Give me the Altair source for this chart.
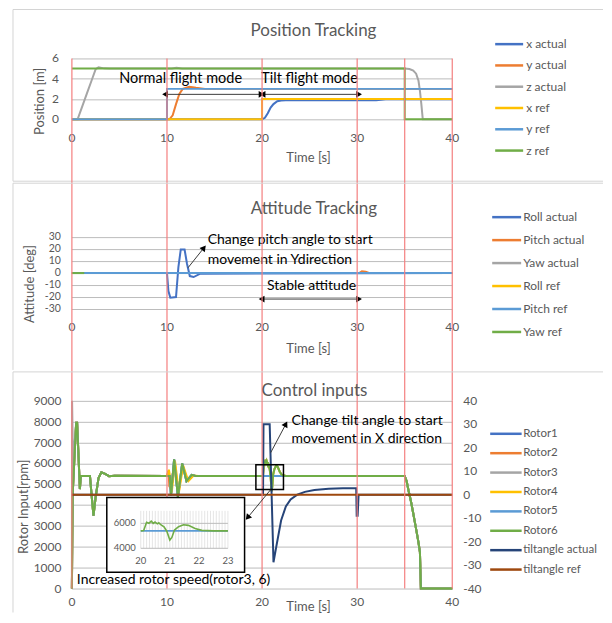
import math
import altair as alt
import pandas as pd

FONT = "Lato"
TXT = "#595959"
GRID = "#bcbcbc"
RED = "#f47f7f"
BORDER = "#d4d4d4"

W = 381
H1, H2, H3 = 61, 72, 188
GAP1, GAP2 = 118, 92

RED_TIMES = [0, 10, 20, 30, 35, 40]
X_TICKS = [0, 10, 20, 30, 40]
POS_TICKS = [0, 2, 4, 6]
ATT_TICKS = [-30, -20, -10, 0, 10, 20, 30]
RPM_TICKS = [0, 1000, 2000, 3000, 4000, 5000, 6000, 7000, 8000, 9000]
TILT_TICKS = [-40, -30, -20, -10, 0, 10, 20, 30, 40]

# ---------------- Position tracking ----------------
POS_NAMES = ["x actual", "y actual", "z actual", "x ref", "y ref", "z ref"]
POS_COLORS = ["#4472C4", "#ED7D31", "#A5A5A5", "#FFC000", "#5B9BD5", "#70AD47"]
X_ACT_T = [0, 20.0, 20.3, 20.6, 20.9, 21.2, 21.6, 22.0, 22.5, 32.0, 33.0, 40]
X_ACT_V = [0, 0, 0.15, 0.6, 1.15, 1.5, 1.78, 1.85, 1.87, 1.88, 1.98, 1.98]
Y_ACT_T = [0, 10.25, 10.6, 10.95, 11.3, 11.65, 12.35, 13.05, 14.0, 40]
Y_ACT_V = [0, 0, 0.4, 1.5, 2.5, 3.0, 3.2, 3.1, 3.0, 3.0]
Z_ACT_T = [0, 0.6, 1.1, 1.6, 2.1, 2.5, 2.8, 3.4, 4.0, 10.5, 11.0, 11.6, 35.0, 35.5,
           35.9, 36.2, 36.45, 36.6, 36.75, 36.9, 40]
Z_ACT_V = [0, 0, 1.3, 2.6, 3.9, 4.95, 5.12, 5.02, 5.0, 5.0, 5.08, 5.0, 5.0, 4.95,
           4.8, 4.5, 3.8, 2.8, 1.5, 0, 0]
X_REF_T = [0, 20, 20, 40]
X_REF_V = [0, 0, 2, 2]
Y_REF_T = [0, 10, 10, 40]
Y_REF_V = [0, 0, 3, 3]
Z_REF_T = [0, 35, 35, 40]
Z_REF_V = [5, 5, 0, 0]

POS_LABELS = ["Normal flight mode", "Tilt flight mode"]
POS_LABEL_T = [11.44, 24.99]
POS_LABEL_V = [3.93, 3.93]
POS_ARROW_T1 = [9.8, 20.05]
POS_ARROW_T2 = [19.95, 30.2]
POS_ARROW_V = [2.46, 2.46]

# ---------------- Attitude tracking ----------------
ATT_NAMES = ["Roll actual", "Pitch actual", "Yaw actual", "Roll ref", "Pitch ref", "Yaw ref"]
ATT_COLORS = ["#4472C4", "#ED7D31", "#A5A5A5", "#FFC000", "#5B9BD5", "#70AD47"]
ROLL_ACT_T = [0, 10.0, 10.15, 10.35, 10.95, 11.2, 11.45, 11.85, 12.1, 12.4, 12.8, 13.5, 40]
ROLL_ACT_V = [0, 0, -15, -20.5, -20, 5, 19.7, 19.7, 8, -2.5, -3.3, -0.5, 0]
PITCH_ACT_T = [0, 30.2, 30.5, 30.9, 31.3, 40]
PITCH_ACT_V = [0, 0, 1.5, 1.2, 0, 0]
YAW_ACT_T = [0, 40]
YAW_ACT_V = [0, 0]
ROLL_REF_T = [0, 40]
ROLL_REF_V = [0, 0]
PITCH_REF_T = [0, 40]
PITCH_REF_V = [0, 0]
YAW_REF_T = [0, 1.3]
YAW_REF_V = [0, 0]

ATT_LABELS = ["Change pitch angle to start", "movement  in Ydirection", "Stable attitude"]
ATT_LABEL_T = [14.28, 14.28, 25.2]
ATT_LABEL_V = [27.4, 10.8, -10.8]
ATT_LABEL_ALIGN = ["left", "left", "center"]
ATT_DARROW_T1 = [19.95]
ATT_DARROW_T2 = [30.2]
ATT_DARROW_V = [-21.7]
ATT_ARROW = [12.21, 4.4, 13.89, 21.1]

# ---------------- Control inputs ----------------
CTRL_NAMES = ["Rotor1", "Rotor2", "Rotor3", "Rotor4", "Rotor5", "Rotor6",
              "tiltangle actual", "tiltangle ref"]
CTRL_COLORS = ["#4472C4", "#ED7D31", "#A5A5A5", "#FFC000", "#5B9BD5", "#70AD47",
               "#264478", "#9E480E"]

R_START_T = [0, 0.08, 0.45, 0.55, 0.84, 0.94, 1.9, 2.05, 2.27, 2.5, 2.8, 3.1, 3.5, 3.9, 4.5, 10.0]
R_START_V = [0, 4500, 7950, 7950, 4770, 5400, 5400, 4600, 3490, 4400, 5300, 5570, 5500, 5390, 5410, 5400]
R3_START_T = [0, 0.02, 0.12, 0.45, 0.55, 0.84, 0.94, 1.9, 2.05, 2.27, 2.5, 2.8, 3.1, 3.5, 3.9, 4.5, 10.0]
R3_START_V = [0, 9000, 6000, 7950, 7950, 4770, 5400, 5400, 4600, 3490, 4400, 5300, 5570, 5500, 5390, 5410, 5400]
R_OSC_T = [10.3, 10.42, 10.75, 11.15, 11.6, 12.05, 12.6, 13.0]
R_OSC_V = [5400, 4450, 6200, 4400, 6000, 5150, 5450, 5400]
R4_OSC_T = [10.2, 10.35, 10.5, 10.85, 11.25, 11.7, 12.25, 12.8, 13.3]
R4_OSC_V = [5700, 5300, 4600, 6100, 4600, 5900, 5150, 5420, 5400]
R2_OSC_T = [10.15, 10.25, 10.4, 10.8, 11.2, 11.65, 12.1, 12.6, 13.0]
R2_OSC_V = [5650, 4900, 4800, 6150, 4500, 5950, 5180, 5440, 5400]
R_TILT_T = [20.0, 20.1, 20.2, 20.28, 20.36, 20.43, 20.49, 20.57, 20.62, 20.7, 20.8, 20.9,
            21.0, 21.07, 21.16, 21.3, 21.47, 21.64, 21.87, 22.1, 22.5]
R_TILT_V = [5400, 5420, 6080, 6000, 6180, 6000, 6100, 5960, 6040, 5870, 5720, 5350,
            4660, 4870, 5460, 5730, 5890, 5840, 5590, 5440, 5400]
R_FLAT_T = [20.0, 22.5]
R_FLAT_V = [5400, 5400]
R_END_T = [35.0, 35.2, 35.4, 35.65, 35.9, 36.1, 36.3, 36.45, 36.6, 36.7, 40]
R_END_V = [5400, 5150, 4700, 4200, 3600, 3100, 2600, 2200, 1750, 0, 0]

TILT_ACT_T = [0, 20.1, 20.15, 20.8, 21.2, 21.5, 22.0, 22.5, 23.0, 23.7, 24.5, 25.5, 27.0,
              28.5, 29.9, 29.95, 30.05, 30.15, 40]
TILT_ACT_V = [0, 0, 30, 30, -28.8, -22, -11, -5, -2, 0, 1.2, 2.0, 2.5,
              2.7, 2.7, -9, -9, 0, 0]
TILT_REF_T = [0, 40]
TILT_REF_V = [0, 0]

CTRL_LABELS = ["Change tilt angle to start", "movement  in X direction",
               "Increased rotor speed(rotor3, 6)"]
CTRL_LABEL_T = [23.1, 23.1, 0.52]
CTRL_LABEL_V = [8043, 7181, 400]
CTRL_ARROWS = [[20.9, 6510, 22.5, 7885], [20.9, 4740, 18.48, 3400]]
ZOOM_RECT = [19.35, 22.25, 4750, 5940]
INSET_BOX = [3.67, 18.16, 780, 4370]
INSET_T_TICKS = [20, 21, 22, 23]
INSET_V_TICKS = [4000, 6000]
INSET_T_GRID = [20 + k / 10 for k in range(31)]
INSET_X_RANGE = [69, 156.3]
INSET_Y_RANGE = [147.7, 122.7]

# ---------------- helpers ----------------
XS = alt.Scale(domain=[0, 40], nice=False, zero=False)


def X(field, scale):
    return alt.X(field, scale=scale, axis=None)


def Y(field, scale):
    return alt.Y(field, scale=scale, axis=None)


def lin(v, d0, d1, r0, r1):
    return r0 + (v - d0) / (d1 - d0) * (r1 - r0)


def series_df(name, ts, vs):
    return pd.DataFrame({"t": ts, "v": vs, "name": [name] * len(ts), "i": list(range(len(ts)))})


def color_enc(names, colors):
    return alt.Color("name:N", scale=alt.Scale(domain=names, range=colors), legend=None)


def lab_text(df, size=12, align="center", angle=0, color=TXT):
    kw = dict(font=FONT, fontSize=size, color=color, align=align, baseline="middle")
    if angle:
        kw["angle"] = angle
    return alt.Chart(df).mark_text(**kw)


def seg_rules(segs, color, width=1.0):
    bdf = pd.DataFrame(segs, columns=["x1", "x2", "y1", "y2"])
    return alt.Chart(bdf).mark_rule(color=color, strokeWidth=width).encode(
        x=alt.X("x1:Q", scale=None), x2="x2:Q", y=alt.Y("y1:Q", scale=None), y2="y2:Q")


def grid_h(values, lo, hi, h):
    segs = []
    for v in values:
        y = round(lin(v, lo, hi, h, 0)) + 0.5
        segs.append([0, W, y, y])
    return seg_rules(segs, GRID)


def x_guides(h, lab_y, title_y):
    labs = lab_text(pd.DataFrame({"t": X_TICKS, "lab": [str(v) for v in X_TICKS]})).encode(
        x=X("t:Q", XS), y=alt.value(h + lab_y), text="lab:N")
    title = lab_text(pd.DataFrame({"lab": ["Time [s]"]}), size=13).encode(
        x=alt.value(237), y=alt.value(h + title_y), text="lab:N")
    return [labs, title]


def y_guides(values, ys, pad, title=None, tx=0, ty=0, right=False, size=12):
    out = []
    ldf = pd.DataFrame({"g": values, "lab": [str(v) for v in values]})
    out.append(lab_text(ldf, size=size, align="left" if right else "right").encode(
        x=alt.value(W + pad if right else -pad), y=Y("g:Q", ys), text="lab:N"))
    if title:
        out.append(lab_text(pd.DataFrame({"lab": [title]}), size=13, angle=270).encode(
            x=alt.value(tx), y=alt.value(ty), text="lab:N"))
    return out


def lines(series, names, colors, ys, width=2.0, xs=XS):
    out = []
    for name, ts, vs in series:
        out.append(alt.Chart(series_df(name, ts, vs)).mark_line(strokeWidth=width).encode(
            x=X("t:Q", xs), y=Y("v:Q", ys), color=color_enc(names, colors),
            order=alt.Order("i:Q")))
    return out


def texts(labels, ts, vs, aligns, ys, size):
    out = []
    for lab, t, v, a in zip(labels, ts, vs, aligns):
        df = pd.DataFrame({"t": [t], "v": [v], "label": [lab]})
        out.append(lab_text(df, size=size, align=a, color="black").encode(
            x=X("t:Q", XS), y=Y("v:Q", ys), text="label:N"))
    return out


def dbl_arrows(t1, t2, v, ys):
    df = pd.DataFrame({"t1": t1, "t2": t2, "v": v})
    shaft = alt.Chart(df).mark_rule(color="#3a3a3a", strokeWidth=1).encode(
        x=X("t1:Q", XS), x2="t2:Q", y=Y("v:Q", ys))
    left = alt.Chart(df).mark_point(shape="triangle-left", filled=True, size=45, color="black",
                                    opacity=1).encode(x=X("t1:Q", XS), y=Y("v:Q", ys))
    right = alt.Chart(df).mark_point(shape="triangle-right", filled=True, size=45, color="black",
                                     opacity=1).encode(x=X("t2:Q", XS), y=Y("v:Q", ys))
    return [shaft, left, right]


def arrow(spec, ys, ymin, ymax, h):
    t1, v1, t2, v2 = spec
    dx = (t2 - t1) * W / 40
    dy = (v2 - v1) * h / (ymax - ymin)
    ang = math.degrees(math.atan2(dx, dy)) % 360
    df = pd.DataFrame({"t1": [t1], "v1": [v1], "t2": [t2], "v2": [v2]})
    shaft = alt.Chart(df).mark_rule(color="#3a3a3a", strokeWidth=1).encode(
        x=X("t1:Q", XS), x2="t2:Q", y=Y("v1:Q", ys), y2="v2:Q")
    head = alt.Chart(df).mark_point(shape="triangle-up", angle=ang, filled=True, size=45,
                                    color="black", opacity=1).encode(
        x=X("t2:Q", XS), y=Y("v2:Q", ys))
    return [shaft, head]


def red(h):
    return alt.Chart(pd.DataFrame({"t": RED_TIMES})).mark_rule(color=RED, strokeWidth=1.2).encode(
        x=X("t:Q", XS), y=alt.value(0), y2=alt.value(h))


def legend(names, colors, y0, y1, xs0, xs1, xt, fs):
    df = pd.DataFrame({"name": names})
    ly = alt.Y("name:N", sort=names,
               scale=alt.Scale(type="point", domain=names, range=[y0, y1], padding=0), axis=None)
    rules = alt.Chart(df).mark_rule(strokeWidth=2.5).encode(
        x=alt.value(xs0), x2=alt.value(xs1), y=ly, color=color_enc(names, colors))
    labs = lab_text(df, size=fs, align="left").encode(x=alt.value(xt), y=ly, text="name:N")
    return alt.layer(rules, labs)


def deco(title, tx, ty, segs):
    t = lab_text(pd.DataFrame({"label": [title]}), size=17).encode(
        x=alt.value(tx), y=alt.value(ty), text="label:N")
    return [seg_rules(segs, BORDER), t]


def spacer(h):
    return red(h).properties(width=W, height=h)


# ---------------- panel 1 ----------------
Y1S = alt.Scale(domain=[0, 6], nice=False, zero=False)
pos_series = [("x actual", X_ACT_T, X_ACT_V), ("y actual", Y_ACT_T, Y_ACT_V),
              ("z actual", Z_ACT_T, Z_ACT_V), ("x ref", X_REF_T, X_REF_V),
              ("y ref", Y_REF_T, Y_REF_V), ("z ref", Z_REF_T, Z_REF_V)]
p1_data = alt.layer(
    *y_guides(POS_TICKS, Y1S, 13, "Position [m]", -32, 43),
    *x_guides(H1, 18.5, 38.7),
    *lines(pos_series, POS_NAMES, POS_COLORS, Y1S),
    *texts(POS_LABELS, POS_LABEL_T, POS_LABEL_V, ["center", "center"], Y1S, 14.5),
    *dbl_arrows(POS_ARROW_T1, POS_ARROW_T2, POS_ARROW_V, Y1S),
    red(H1),
)
p1 = alt.layer(
    grid_h(POS_TICKS, 0, 6, H1),
    p1_data,
    legend(POS_NAMES, POS_COLORS, -14.3, 92.3, 424, 452, 455, 12),
    *deco("Position Tracking", 242, -27, [[-59, 532, -49, -49], [-59, -59, -49, 123], [-59, 532, 123, 123]]),
).resolve_scale(y="independent").properties(width=W, height=H1)

# ---------------- panel 2 ----------------
Y2S = alt.Scale(domain=[-30, 30], nice=False, zero=False)
att_series = [("Roll actual", ROLL_ACT_T, ROLL_ACT_V), ("Pitch actual", PITCH_ACT_T, PITCH_ACT_V),
              ("Yaw actual", YAW_ACT_T, YAW_ACT_V), ("Roll ref", ROLL_REF_T, ROLL_REF_V),
              ("Pitch ref", PITCH_REF_T, PITCH_REF_V), ("Yaw ref", YAW_REF_T, YAW_REF_V)]
p2_data = alt.layer(
    *y_guides(ATT_TICKS, Y2S, 11, "Attitude [deg]", -42, 47, size=10.5),
    *x_guides(H2, 18, 40),
    *lines(att_series, ATT_NAMES, ATT_COLORS, Y2S),
    *texts(ATT_LABELS, ATT_LABEL_T, ATT_LABEL_V, ATT_LABEL_ALIGN, Y2S, 14),
    *dbl_arrows(ATT_DARROW_T1, ATT_DARROW_T2, ATT_DARROW_V, Y2S),
    *arrow(ATT_ARROW, Y2S, -30, 30, H2),
    red(H2),
)
p2 = alt.layer(
    grid_h(ATT_TICKS, -30, 30, H2),
    p2_data,
    legend(ATT_NAMES, ATT_COLORS, -20, 95, 421, 450, 452, 12),
    *deco("Attitude Tracking", 242.5, -28, [[-59, 532, -54, -54], [-59, -59, -54, 133]]),
).resolve_scale(y="independent").properties(width=W, height=H2)

# ---------------- panel 3 ----------------
Y3L = alt.Scale(domain=[0, 9000], nice=False, zero=False)
Y3R = alt.Scale(domain=[-40, 40], nice=False, zero=False)
rotor_series = [
    ("Rotor1", R_START_T + R_OSC_T + R_FLAT_T + R_END_T, R_START_V + R_OSC_V + R_FLAT_V + R_END_V),
    ("Rotor2", R_START_T + R2_OSC_T + R_FLAT_T + R_END_T, R_START_V + R2_OSC_V + R_FLAT_V + R_END_V),
    ("Rotor3", R3_START_T + R_OSC_T + R_TILT_T + R_END_T, R3_START_V + R_OSC_V + R_TILT_V + R_END_V),
    ("Rotor4", R_START_T + R4_OSC_T + R_TILT_T + R_END_T, R_START_V + R4_OSC_V + R_TILT_V + R_END_V),
    ("Rotor5", R_START_T + R_OSC_T + R_FLAT_T + R_END_T, R_START_V + R_OSC_V + R_FLAT_V + R_END_V),
    ("Rotor6", R_START_T + R_OSC_T + R_TILT_T + R_END_T, R_START_V + R_OSC_V + R_TILT_V + R_END_V),
]
tilt_series = [("tiltangle actual", TILT_ACT_T, TILT_ACT_V), ("tiltangle ref", TILT_REF_T, TILT_REF_V)]

left = alt.layer(
    *y_guides(RPM_TICKS, Y3L, 10.5, "Rotor Input[rpm]", -48, 106),
    *x_guides(H3, 13.7, 19),
    *lines(rotor_series, CTRL_NAMES, CTRL_COLORS, Y3L))
right = alt.layer(
    *y_guides(TILT_TICKS, Y3R, 11, right=True),
    *lines(tilt_series, CTRL_NAMES, CTRL_COLORS, Y3R))

box_df = pd.DataFrame({"t1": [INSET_BOX[0]], "t2": [INSET_BOX[1]], "v1": [INSET_BOX[2]], "v2": [INSET_BOX[3]]})
zr_df = pd.DataFrame({"t1": [ZOOM_RECT[0]], "t2": [ZOOM_RECT[1]], "v1": [ZOOM_RECT[2]], "v2": [ZOOM_RECT[3]]})
box = alt.Chart(box_df).mark_rect(fill="white", stroke="black", strokeWidth=1.5).encode(
    x=X("t1:Q", XS), x2="t2:Q", y=Y("v1:Q", Y3L), y2="v2:Q")
zrect = alt.Chart(zr_df).mark_rect(fillOpacity=0, stroke="black", strokeWidth=1.5).encode(
    x=X("t1:Q", XS), x2="t2:Q", y=Y("v1:Q", Y3L), y2="v2:Q")
anno3 = alt.layer(
    zrect, box,
    *arrow(CTRL_ARROWS[0], Y3L, 0, 9000, H3),
    *arrow(CTRL_ARROWS[1], Y3L, 0, 9000, H3),
    *texts(CTRL_LABELS, CTRL_LABEL_T, CTRL_LABEL_V, ["left", "left", "left"], Y3L, 14),
)

# inset grid (same linear mapping as the inset scales)
ix0, ix1 = INSET_X_RANGE
iy0, iy1 = INSET_Y_RANGE
inset_vsegs = []
for t in INSET_T_GRID:
    x = lin(t, 20, 23, ix0, ix1)
    inset_vsegs.append([x, x, lin(4000, 4000, 6000, iy0, iy1), lin(7000, 4000, 6000, iy0, iy1)])
inset_hsegs = []
for v in INSET_V_TICKS:
    y = lin(v, 4000, 6000, iy0, iy1)
    inset_hsegs.append([ix0, ix1, y, y])

IXS = alt.Scale(domain=[20, 23], range=INSET_X_RANGE, nice=False, zero=False)
IYS = alt.Scale(domain=[4000, 6000], range=INSET_Y_RANGE, nice=False, zero=False)
inset_rotor = [(n, ts, vs) for (n, ts, vs) in rotor_series if n in ("Rotor5", "Rotor6")]
inset_series = []
for n, ts, vs in inset_rotor:
    d = series_df(n, ts, vs)
    d = d[(d.t >= 20) & (d.t <= 23)]
    inset_series.append((n, list(d.t) + [23.0], list(d.v) + [5400]))
inset = alt.layer(
    *lines(inset_series, CTRL_NAMES, CTRL_COLORS, IYS, width=1.6, xs=IXS),
    lab_text(pd.DataFrame({"t": INSET_T_TICKS, "lab": [str(x) for x in INSET_T_TICKS]}), size=9.5).encode(
        x=X("t:Q", IXS), y=alt.value(160.7), text="lab:N"),
    lab_text(pd.DataFrame({"v": INSET_V_TICKS, "lab": [str(x) for x in INSET_V_TICKS]}), size=9.5,
             align="right").encode(x=alt.value(64), y=Y("v:Q", IYS), text="lab:N"),
)

p3 = alt.layer(
    grid_h(RPM_TICKS, 0, 9000, H3),
    left, right, red(H3), anno3,
    seg_rules(inset_vsegs, "#dedede", 0.8),
    seg_rules(inset_hsegs, GRID, 1.0),
    inset,
    legend(CTRL_NAMES, CTRL_COLORS, 33, 169, 419, 450.5, 452, 11.5),
    *deco("Control inputs", 243, -10, [[-59, 532, -29, -29], [-59, -59, -29, 212]]),
).resolve_scale(x="independent", y="independent").properties(width=W, height=H3)

chart = alt.vconcat(p1, spacer(GAP1), p2, spacer(GAP2), p3, spacing=0, bounds="flush").resolve_scale(
    color="independent"
).properties(
    padding={"left": 4, "top": 0, "right": 0, "bottom": 0}, background="white"
).configure_view(stroke=None)

chart.save("out.html", embed_options={"renderer": "svg", "actions": False})
